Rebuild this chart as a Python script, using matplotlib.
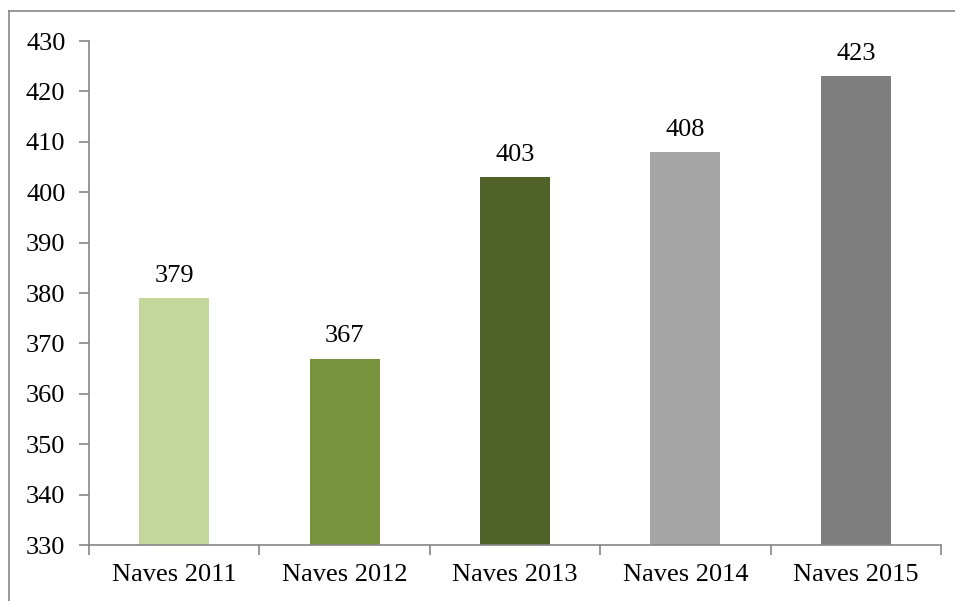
import matplotlib.pyplot as plt
from matplotlib.lines import Line2D
import numpy as np

categories = ["Naves 2011", "Naves 2012", "Naves 2013", "Naves 2014", "Naves 2015"]
values = [379, 367, 403, 408, 423]
colors = ["#C4D79B", "#77933C", "#4F6228", "#A6A6A6", "#7F7F7F"]
y_ticks = [330, 340, 350, 360, 370, 380, 390, 400, 410, 420, 430]

plt.rcParams['font.family'] = ['Liberation Serif', 'DejaVu Serif']
axis_grey = "#868686"

fig = plt.figure(figsize=(9.55, 6.01), dpi=100)
ax = fig.add_axes([89/955, 1-545/601, (941-89)/955, (545-41)/601])

x = np.arange(len(categories))
bars = ax.bar(x, values, width=0.41, color=colors, bottom=0)

for xi, v in zip(x, values):
    ax.annotate(str(v), (xi, v), xytext=(0, 8), textcoords="offset points",
                ha="center", va="bottom", fontsize=19, color="black")

ax.set_ylim(330, 430)
ax.set_yticks(y_ticks)
ax.set_xlim(-0.5, len(categories) - 0.5)
ax.set_xticks(x)
ax.set_xticklabels(categories)
ax.set_xticks(np.arange(-0.5, len(categories)), minor=True)

ax.tick_params(axis="x", which="major", length=0, pad=14, labelsize=19)
ax.tick_params(axis="x", which="minor", length=7, width=1.2, color=axis_grey, direction="out")
ax.tick_params(axis="y", length=7, width=1.2, color=axis_grey, direction="out", pad=10, labelsize=19)

for s in ["top", "right"]:
    ax.spines[s].set_visible(False)
for s in ["left", "bottom"]:
    ax.spines[s].set_color(axis_grey)
    ax.spines[s].set_linewidth(1.2)

# chart area border (top and left edges)
fx = 9/955
fy = 1 - 11/601
fig.add_artist(Line2D([fx, 1], [fy, fy], color=axis_grey, lw=1.2, transform=fig.transFigure))
fig.add_artist(Line2D([fx, fx], [0, fy], color=axis_grey, lw=1.2, transform=fig.transFigure))

fig.savefig("out.png", dpi=100)
